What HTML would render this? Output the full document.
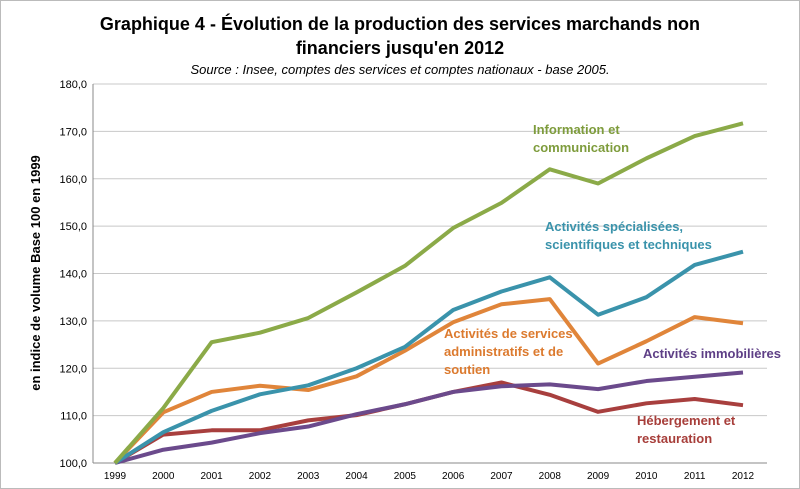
<!DOCTYPE html>
<html><head><meta charset="utf-8"><style>
body{margin:0;background:#fff;}
svg{display:block;font-family:"Liberation Sans",sans-serif;}
</style></head><body>
<svg width="800" height="489" viewBox="0 0 800 489" xmlns="http://www.w3.org/2000/svg">
<rect x="0.5" y="0.5" width="799" height="488" fill="#fff" stroke="#bbb"/>
<text x="400" y="30" text-anchor="middle" font-size="18" font-weight="bold" fill="#000">Graphique 4 - Évolution de la production des services marchands non</text>
<text x="400" y="54" text-anchor="middle" font-size="18" font-weight="bold" fill="#000">financiers jusqu'en 2012</text>
<text x="400" y="74" text-anchor="middle" font-size="13" font-style="italic" fill="#000">Source : Insee, comptes des services et comptes nationaux - base 2005.</text>
<text transform="translate(40,273) rotate(-90)" text-anchor="middle" font-size="13" font-weight="bold" fill="#000">en indice de volume Base 100 en 1999</text>
<g id="grid"></g><g id="axes"></g><g id="series"></g>
<g font-size="13" font-weight="bold">
<text x="533" y="134" fill="#7E9C3C"><tspan x="533">Information et</tspan><tspan x="533" dy="18">communication</tspan></text>
<text x="545" y="231" fill="#3A93AB"><tspan x="545">Activités spécialisées,</tspan><tspan x="545" dy="18">scientifiques et techniques</tspan></text>
<text x="444" y="338" fill="#DC7A2E"><tspan x="444">Activités de services</tspan><tspan x="444" dy="18">administratifs et de</tspan><tspan x="444" dy="18">soutien</tspan></text>
<text x="643" y="358" fill="#5E3F86">Activités immobilières</text>
<text x="637" y="425" fill="#A73E3A"><tspan x="637">Hébergement et</tspan><tspan x="637" dy="18">restauration</tspan></text>
</g>
</svg>
<script>
const years=["1999","2000","2001","2002","2003","2004","2005","2006","2007","2008","2009","2010","2011","2012"];
const yTicks=[100,110,120,130,140,150,160,170,180];
const info=[100,111.6,125.5,127.5,130.6,136,141.6,149.6,154.9,162,159,164.3,169,171.7];
const specialisees=[100,106.5,111,114.5,116.4,120,124.5,132.3,136.2,139.2,131.3,135,141.8,144.6];
const administratifs=[100,110.7,115,116.3,115.4,118.3,123.7,129.7,133.5,134.6,121,125.7,130.8,129.5];
const immobilieres=[100,102.8,104.3,106.3,107.7,110.3,112.4,115,116.2,116.6,115.6,117.3,118.2,119.1];
const hebergement=[100,106,106.9,106.9,109,110.1,112.4,115,117,114.4,110.8,112.6,113.5,112.2];
const NS="http://www.w3.org/2000/svg";
const L=93,R=767,T=84,B=463;
function x(i){return 115+i*(743-115)/(years.length-1);}
function y(v){return B-(v-100)*(B-T)/80;}
function mk(t,a,p){const e=document.createElementNS(NS,t);for(const k in a)e.setAttribute(k,a[k]);p.appendChild(e);return e;}
const g=document.getElementById('grid'),ax=document.getElementById('axes'),s=document.getElementById('series');
yTicks.forEach(v=>{
 const l=mk('line',{x1:L,x2:R,y1:y(v),y2:y(v),stroke:'#c8c8c8','stroke-width':1},g);
 
 
 const t=mk('text',{x:L-6,y:y(v)+4,'text-anchor':'end','font-size':11,fill:'#000'},ax);
 t.textContent=v.toFixed(1).replace('.',',');
 
 
});
const a1=mk('line',{x1:L,x2:L,y1:T,y2:B,stroke:'#888'},ax);


const a2=mk('line',{x1:L,x2:R,y1:B,y2:B,stroke:'#888'},ax);


years.forEach((yr,i)=>{
 const t=mk('text',{x:x(i),y:B+16,'text-anchor':'middle','font-size':10,fill:'#000'},ax);
 t.textContent=yr;
 
 
});
[[hebergement,'#A83F3E','line-hebergement'],[immobilieres,'#6B4A8C','line-immobilieres'],[administratifs,'#E0853A','line-administratifs'],[specialisees,'#3A93AB','line-specialisees'],[info,'#8BAA48','line-information']].forEach(([d,c,n])=>{
 const p=mk('polyline',{points:d.map((v,i)=>x(i)+','+y(v)).join(' '),fill:'none',stroke:c,'stroke-width':4,'stroke-linejoin':'round'},s);
 
 
});
</script>
</body></html>
